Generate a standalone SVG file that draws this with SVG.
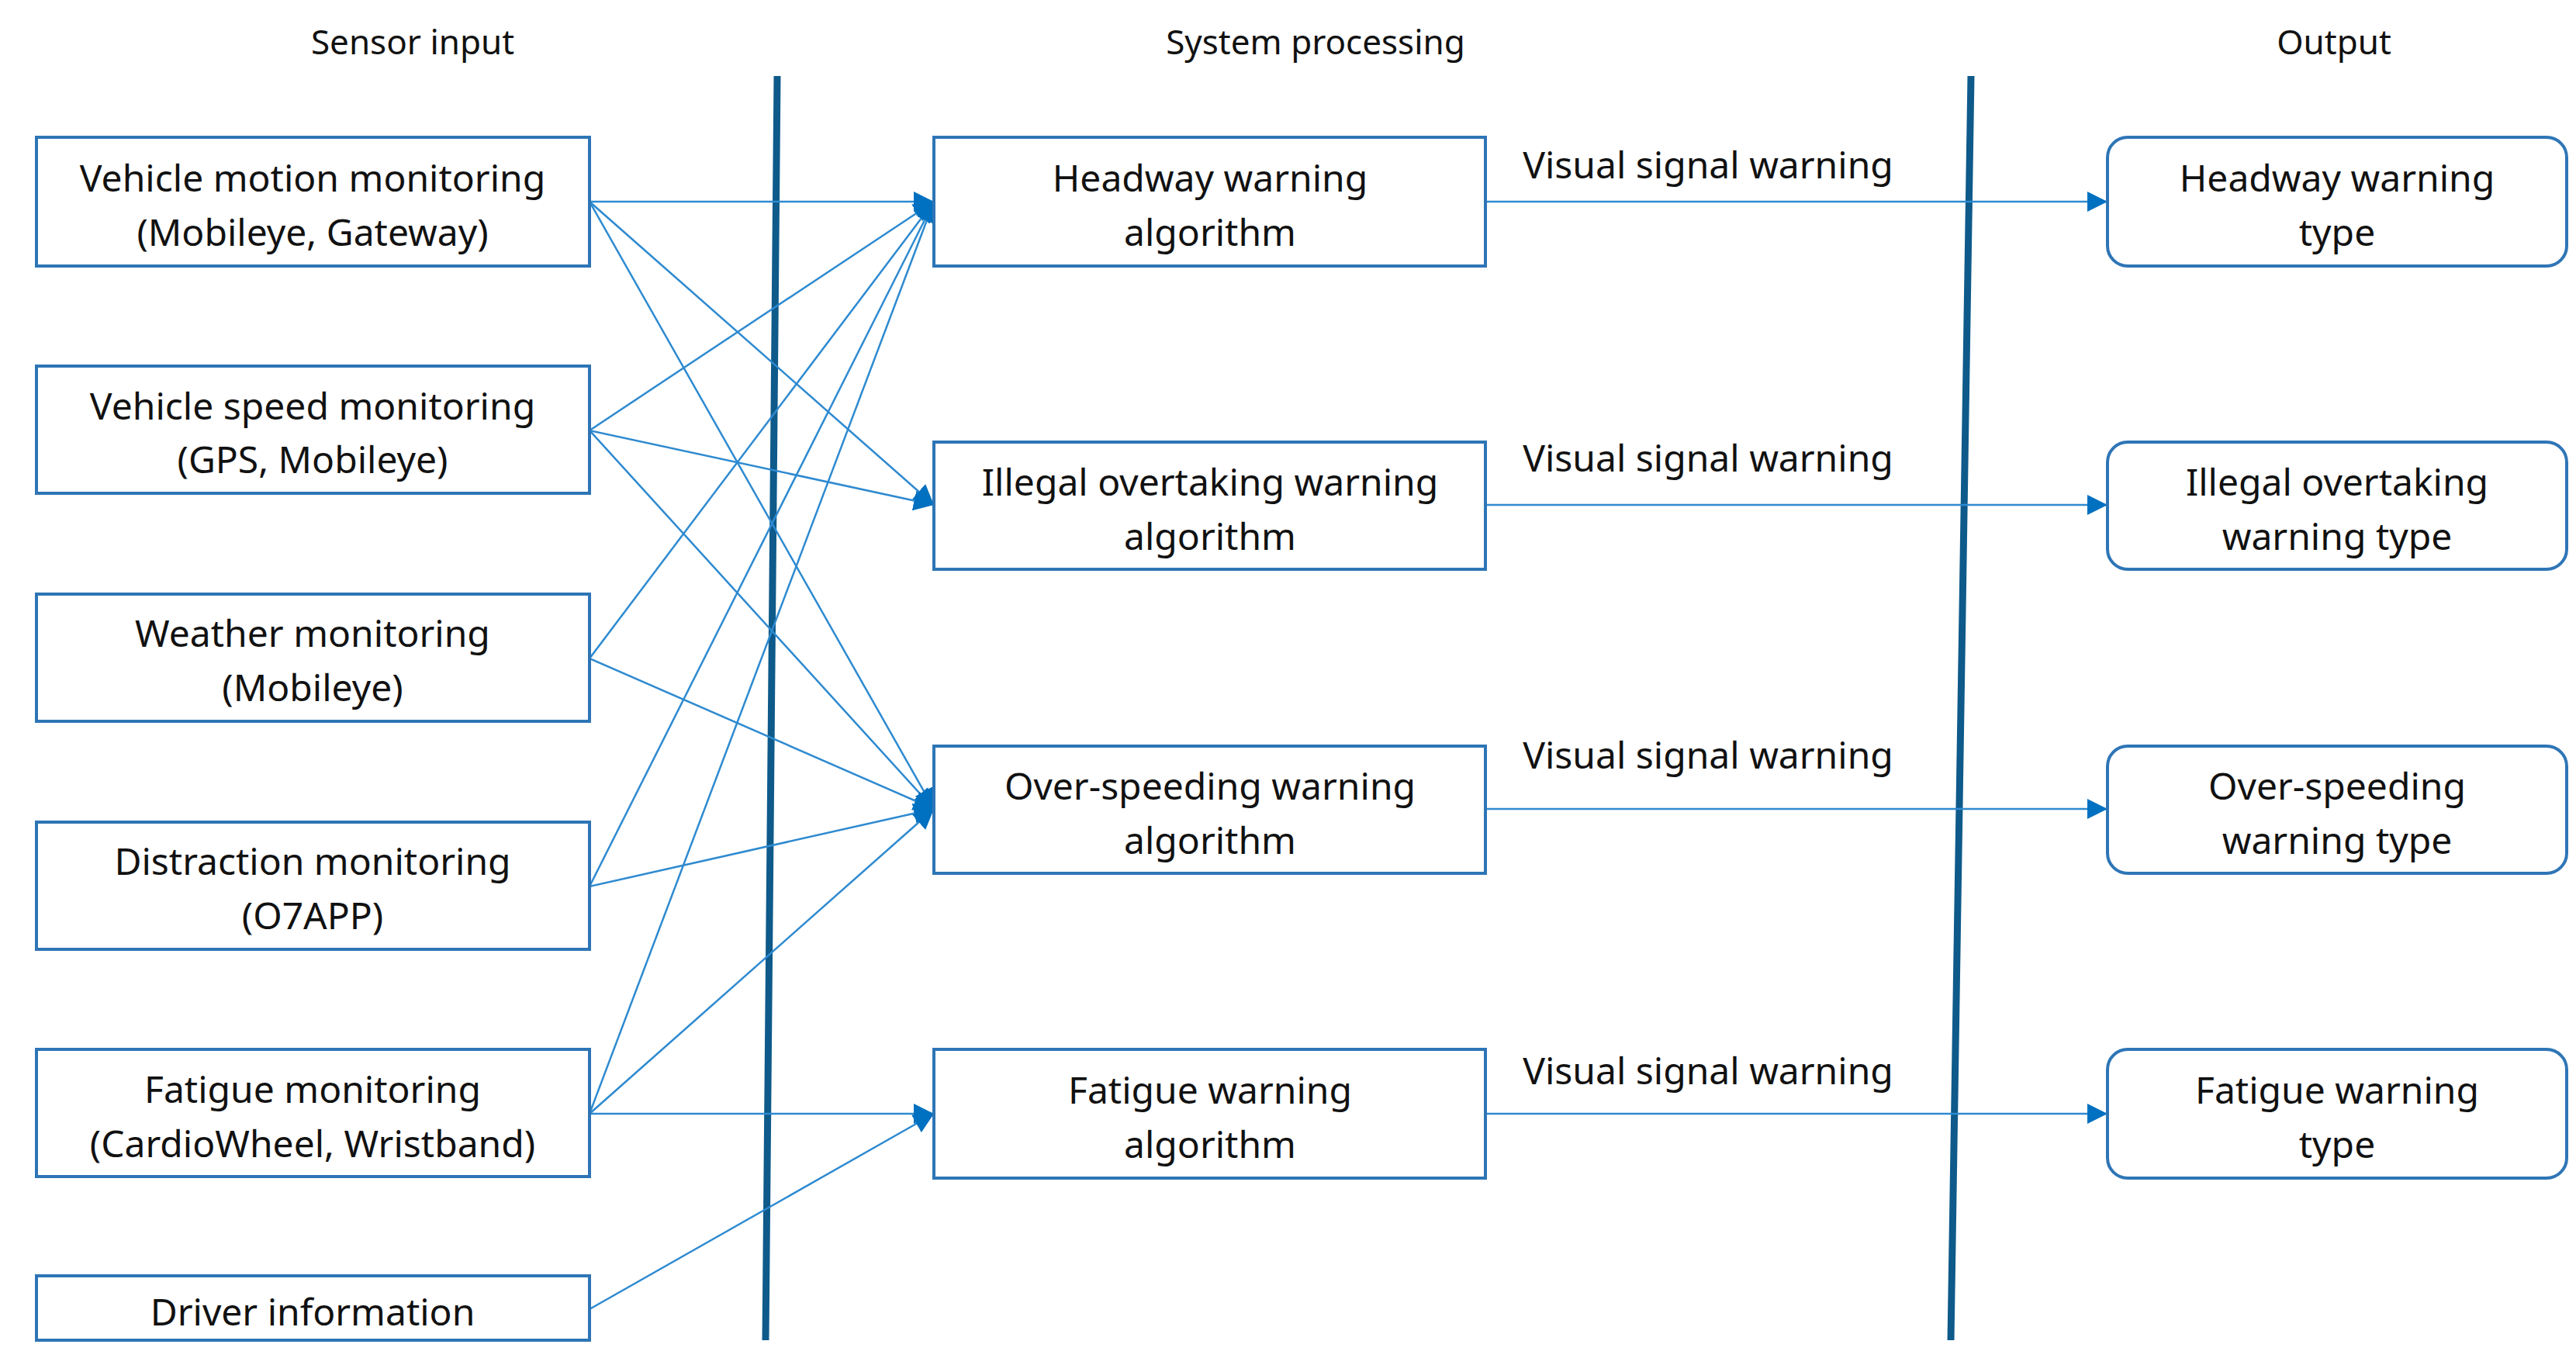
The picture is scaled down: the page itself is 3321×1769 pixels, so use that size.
<svg xmlns="http://www.w3.org/2000/svg" width="3321" height="1769" viewBox="0 0 3321 1769">
<style>
.b{fill:#fff;stroke:#2e75b6;stroke-width:4}
text{font-family:"Noto Sans","Open Sans",sans-serif;font-size:48px;fill:#111;text-anchor:middle;dominant-baseline:central}
.h{font-size:44px}
.c{stroke:#2e8ad0;stroke-width:2.5;fill:none;marker-end:url(#a)}
.v{stroke:#0e5a8a;stroke-width:9}
</style>
<defs><marker id="a" viewBox="0 0 10 10" refX="10" refY="5" markerWidth="9" markerHeight="9" markerUnits="userSpaceOnUse" orient="auto"><path d="M0,0L10,5L0,10z" fill="#0070c0"/></marker>
<marker id="a2" viewBox="0 0 10 10" refX="10" refY="5" markerWidth="26" markerHeight="26" markerUnits="userSpaceOnUse" orient="auto"><path d="M0,0L10,5L0,10z" fill="#0070c0"/></marker></defs>
<text class="h" x="532" y="53">Sensor input</text>
<text class="h" x="1696" y="53">System processing</text>
<text class="h" x="3009" y="53">Output</text>
<g id="dividers"><line class="v" x1="1002" y1="98" x2="987" y2="1728"/><line class="v" x1="2541" y1="98" x2="2515" y2="1728"/></g>
<g id="connectors">
<g class="c" style="marker-end:url(#a2)">
<line x1="760" y1="260" x2="1204" y2="260"/><line x1="760" y1="260" x2="1204" y2="651"/><line x1="760" y1="260" x2="1204" y2="1043"/>
<line x1="760" y1="555" x2="1204" y2="260"/><line x1="760" y1="555" x2="1204" y2="651"/><line x1="760" y1="555" x2="1204" y2="1043"/>
<line x1="760" y1="849" x2="1204" y2="260"/><line x1="760" y1="849" x2="1204" y2="1043"/>
<line x1="760" y1="1143" x2="1204" y2="260"/><line x1="760" y1="1143" x2="1204" y2="1043"/>
<line x1="760" y1="1436" x2="1204" y2="260"/><line x1="760" y1="1436" x2="1204" y2="1043"/><line x1="760" y1="1436" x2="1204" y2="1436"/>
<line x1="760" y1="1688" x2="1204" y2="1436"/>
<line x1="1915" y1="260" x2="2717" y2="260"/><line x1="1915" y1="651" x2="2717" y2="651"/><line x1="1915" y1="1043" x2="2717" y2="1043"/><line x1="1915" y1="1436" x2="2717" y2="1436"/>
</g>
<text x="2202" y="211">Visual signal warning</text>
<text x="2202" y="589">Visual signal warning</text>
<text x="2202" y="972">Visual signal warning</text>
<text x="2202" y="1379">Visual signal warning</text>
</g>
<g id="in1"><rect class="b" x="47" y="177" width="713" height="166"/><text x="403" y="228">Vehicle motion monitoring</text><text x="403" y="298">(Mobileye, Gateway)</text></g>
<g id="in2"><rect class="b" x="47" y="472" width="713" height="164"/><text x="403" y="522">Vehicle speed monitoring</text><text x="403" y="591">(GPS, Mobileye)</text></g>
<g id="in3"><rect class="b" x="47" y="766" width="713" height="164"/><text x="403" y="815">Weather monitoring</text><text x="403" y="885">(Mobileye)</text></g>
<g id="in4"><rect class="b" x="47" y="1060" width="713" height="164"/><text x="403" y="1109">Distraction monitoring</text><text x="403" y="1179">(O7APP)</text></g>
<g id="in5"><rect class="b" x="47" y="1353" width="713" height="164"/><text x="403" y="1403">Fatigue monitoring</text><text x="403" y="1473">(CardioWheel, Wristband)</text></g>
<g id="in6"><rect class="b" x="47" y="1645" width="713" height="83"/><text x="403" y="1690">Driver information</text></g>
<g id="p1"><rect class="b" x="1204" y="177" width="711" height="166"/><text x="1560" y="228">Headway warning</text><text x="1560" y="298">algorithm</text></g>
<g id="p2"><rect class="b" x="1204" y="570" width="711" height="164"/><text x="1560" y="620">Illegal overtaking warning</text><text x="1560" y="690">algorithm</text></g>
<g id="p3"><rect class="b" x="1204" y="962" width="711" height="164"/><text x="1560" y="1012">Over-speeding warning</text><text x="1560" y="1082">algorithm</text></g>
<g id="p4"><rect class="b" x="1204" y="1353" width="711" height="166"/><text x="1560" y="1404">Fatigue warning</text><text x="1560" y="1474">algorithm</text></g>
<g id="o1"><rect class="b" x="2717" y="177" width="592" height="166" rx="26"/><text x="3013" y="228">Headway warning</text><text x="3013" y="298">type</text></g>
<g id="o2"><rect class="b" x="2717" y="570" width="592" height="164" rx="26"/><text x="3013" y="620">Illegal overtaking</text><text x="3013" y="690">warning type</text></g>
<g id="o3"><rect class="b" x="2717" y="962" width="592" height="164" rx="26"/><text x="3013" y="1012">Over-speeding</text><text x="3013" y="1082">warning type</text></g>
<g id="o4"><rect class="b" x="2717" y="1353" width="592" height="166" rx="26"/><text x="3013" y="1404">Fatigue warning</text><text x="3013" y="1474">type</text></g>
</svg>
